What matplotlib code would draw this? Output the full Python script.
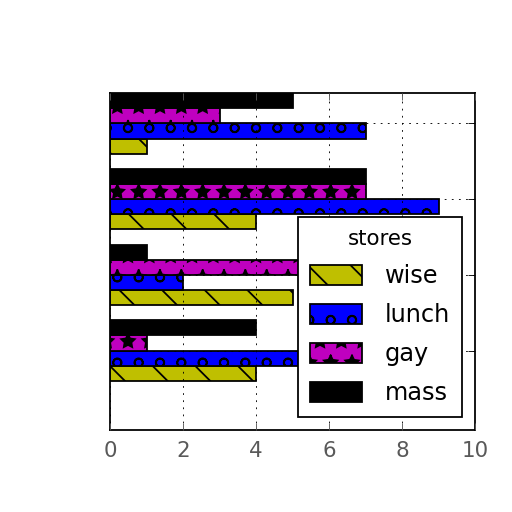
import numpy as np
import matplotlib
matplotlib.use("Agg")
import matplotlib.pyplot as plt

plt.style.use("classic")

groups = [0, 1, 2, 3]
series = ["wise", "lunch", "gay", "mass"]
wise = [4, 5, 4, 1]
lunch = [7, 2, 9, 7]
gay = [1, 6, 7, 3]
mass = [4, 1, 7, 5]

colors = ["y", "b", "m", "k"]
hatches = ["\\", "o", "*", ""]
values = [wise, lunch, gay, mass]

fig = plt.figure(figsize=(4, 4), dpi=128, facecolor="white")
ax = fig.add_axes([0.215, 0.16, 0.713, 0.658])

y = np.array(groups, dtype=float)
height = 0.2
for i, (name, vals) in enumerate(zip(series, values)):
    ax.barh(y - 0.3 + i * height, vals, height=height, align="center",
            color=colors[i], hatch=hatches[i], edgecolor="k", label=name)

ax.set_xlim(0, 10)
ax.set_ylim(-1.05, 3.4)
ax.set_xticks([0, 2, 4, 6, 8, 10])
ax.set_yticks(groups)
ax.set_yticklabels([])
ax.tick_params(axis="x", labelsize=12, colors="0.35", pad=6)
ax.grid(True)

leg = ax.legend(title="stores", loc="lower right", fontsize=13.5,
                handlelength=2.15, handleheight=0.9, borderaxespad=0.55,
                labelspacing=0.62, handletextpad=0.95, borderpad=0.5)
leg.get_title().set_fontsize(12)

fig.savefig("out.png", dpi=128, facecolor="white")
